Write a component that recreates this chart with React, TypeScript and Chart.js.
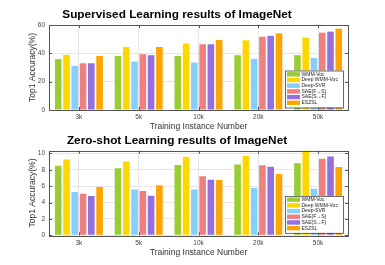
import React, { useEffect, useRef } from "react";
import { Chart, registerables } from "chart.js";

Chart.register(...registerables);

const categories = ["3k", "5k", "10k", "20k", "50k"];
const seriesLabels = ["WMM-Voc", "Deep WMM-Voc", "Deep-SVR", "SAE(F→S)", "SAE(S→F)", "ESZSL"];
const seriesColors = ["#9acd32", "#ffd700", "#87cefa", "#f08080", "#9370db", "#ffa500"];

const supWMM = [35.9, 38.2, 38.2, 38.7, 38.7];
const supDeepWMM = [38.9, 44.5, 46.9, 49.2, 51.1];
const supDeepSVR = [31.2, 34.2, 33.5, 36.1, 36.8];
const supSAEFS = [33.0, 39.4, 46.4, 51.8, 54.6];
const supSAESF = [33.0, 38.7, 46.4, 52.3, 55.3];
const supESZSL = [38.2, 44.5, 49.4, 54.1, 57.4];

const zsWMM = [8.5, 8.2, 8.6, 8.66, 8.8];
const zsDeepWMM = [9.27, 9.0, 9.6, 9.7, 10.5];
const zsDeepSVR = [5.28, 5.6, 5.6, 5.77, 5.7];
const zsSAEFS = [5.08, 5.4, 7.2, 8.54, 9.35];
const zsSAESF = [4.8, 4.84, 6.8, 8.37, 9.63];
const zsESZSL = [5.9, 6.1, 6.75, 7.48, 8.33];

const supTicks = [0, 20, 40, 60];
const zsTicks = [0, 2, 4, 6, 8, 10];

const FONT = "'Liberation Sans', Arial, Helvetica, sans-serif";

type Cfg = {
  title: string;
  series: number[][];
  yMax: number;
  yTicks: number[];
  height: number;
  padTop: number;
  padBottom: number;
  xAxisHeight: number;
  titleY: number;
};

function makeChart(canvas: HTMLCanvasElement, cfg: Cfg) {
  const framePlugin = {
    id: "frame",
    afterDatasetsDraw(chart: any) {
      const { ctx, chartArea: a } = chart;
      ctx.save();
      ctx.strokeStyle = "#555";
      ctx.lineWidth = 1;
      ctx.strokeRect(Math.round(a.left) + 0.5, Math.round(a.top) + 0.5, Math.round(a.right - a.left), Math.round(a.bottom - a.top));
      const ys = chart.scales.y;
      ctx.beginPath();
      for (const t of cfg.yTicks) {
        const py = Math.round(ys.getPixelForValue(t)) + 0.5;
        ctx.moveTo(a.left, py);
        ctx.lineTo(a.left + 3, py);
        ctx.moveTo(a.right, py);
        ctx.lineTo(a.right - 3, py);
      }
      const xs = chart.scales.x;
      for (let i = 0; i < categories.length; i++) {
        const px = Math.round(xs.getPixelForValue(i)) + 0.5;
        ctx.moveTo(px, a.bottom);
        ctx.lineTo(px, a.bottom - 3);
        ctx.moveTo(px, a.top);
        ctx.lineTo(px, a.top + 3);
      }
      ctx.stroke();

      const right = a.right - 5;
      const bottom = a.bottom - 2.5;
      const w = 58;
      const h = 37;
      const left = right - w;
      const top = bottom - h;
      ctx.fillStyle = "#fff";
      ctx.fillRect(left, top, w, h);
      ctx.strokeStyle = "#444";
      ctx.lineWidth = 0.8;
      ctx.strokeRect(left + 0.5, top + 0.5, w, h);
      ctx.font = `5px ${FONT}`;
      ctx.textBaseline = "middle";
      ctx.textAlign = "left";
      for (let i = 0; i < seriesLabels.length; i++) {
        const cy = top + 3.8 + i * 5.7;
        ctx.fillStyle = seriesColors[i];
        ctx.fillRect(left + 2, cy - 2.2, 13, 4.4);
        ctx.fillStyle = "#222";
        ctx.fillText(seriesLabels[i], left + 16.5, cy);
      }

      ctx.font = `bold 11.8px ${FONT}`;
      ctx.fillStyle = "#000";
      ctx.textAlign = "center";
      ctx.textBaseline = "middle";
      ctx.fillText(cfg.title, 177, cfg.titleY);
      ctx.restore();
    },
  };

  return new Chart(canvas, {
    type: "bar",
    data: {
      labels: categories,
      datasets: cfg.series.map((d, i) => ({
        label: seriesLabels[i],
        data: d,
        backgroundColor: seriesColors[i],
        borderWidth: 0,
        barPercentage: 0.8,
        categoryPercentage: 0.83,
      })),
    },
    options: {
      responsive: false,
      animation: false,
      events: [],
      layout: { padding: { left: 0, right: 37, top: cfg.padTop, bottom: cfg.padBottom } },
      plugins: { legend: { display: false }, tooltip: { enabled: false }, title: { display: false } },
      scales: {
        x: {
          grid: { display: true, color: "#e6e6e6", drawTicks: false, offset: false },
          border: { display: false },
          ticks: { font: { family: FONT, size: 6.5 }, color: "#444", padding: 3.5, maxRotation: 0 },
          title: {
            display: true,
            text: "Training Instance Number",
            font: { family: FONT, size: 8.5, lineHeight: 1 },
            color: "#333",
            padding: { top: 0, bottom: 0 },
          },
          afterFit(scale: any) {
            scale.height = cfg.xAxisHeight;
          },
        },
        y: {
          min: 0,
          max: cfg.yMax,
          grid: { color: "#e6e6e6", drawTicks: false },
          border: { display: false },
          afterBuildTicks(scale: any) {
            scale.ticks = cfg.yTicks.map((v) => ({ value: v }));
          },
          ticks: { font: { family: FONT, size: 6.5 }, color: "#444", padding: 4 },
          title: {
            display: true,
            text: "Top1 Accuracy(%)",
            font: { family: FONT, size: 8.5, lineHeight: 1 },
            color: "#333",
            padding: { top: 28.5, bottom: 0 },
          },
          afterFit(scale: any) {
            scale.width = 49;
          },
        },
      },
    },
    plugins: [framePlugin],
  } as any);
}

function BarPanel({ cfg }: { cfg: Cfg }) {
  const ref = useRef<HTMLCanvasElement>(null);
  useEffect(() => {
    if (!ref.current) return;
    const c = makeChart(ref.current, cfg);
    return () => c.destroy();
  }, []);
  return <canvas ref={ref} width={385} height={cfg.height} style={{ display: "block", width: 385, height: cfg.height }} />;
}

export default function App() {
  const top: Cfg = {
    title: "Supervised Learning results of ImageNet",
    series: [supWMM, supDeepWMM, supDeepSVR, supSAEFS, supSAESF, supESZSL],
    yMax: 60,
    yTicks: supTicks,
    height: 132,
    padTop: 25,
    padBottom: 0.75,
    xAxisHeight: 21.25,
    titleY: 15,
  };
  const bottom: Cfg = {
    title: "Zero-shot Learning results of ImageNet",
    series: [zsWMM, zsDeepWMM, zsDeepSVR, zsSAEFS, zsSAESF, zsESZSL],
    yMax: 10.33,
    yTicks: zsTicks,
    height: 135,
    padTop: 20.7,
    padBottom: 8,
    xAxisHeight: 21.65,
    titleY: 11,
  };
  return (
    <div style={{ position: "absolute", left: 0, top: 0, width: 385, height: 265, background: "#fff" }}>
      <div style={{ position: "absolute", left: 0, top: 0 }}>
        <BarPanel cfg={top} />
      </div>
      <div style={{ position: "absolute", left: 0, top: 130 }}>
        <BarPanel cfg={bottom} />
      </div>
    </div>
  );
}
